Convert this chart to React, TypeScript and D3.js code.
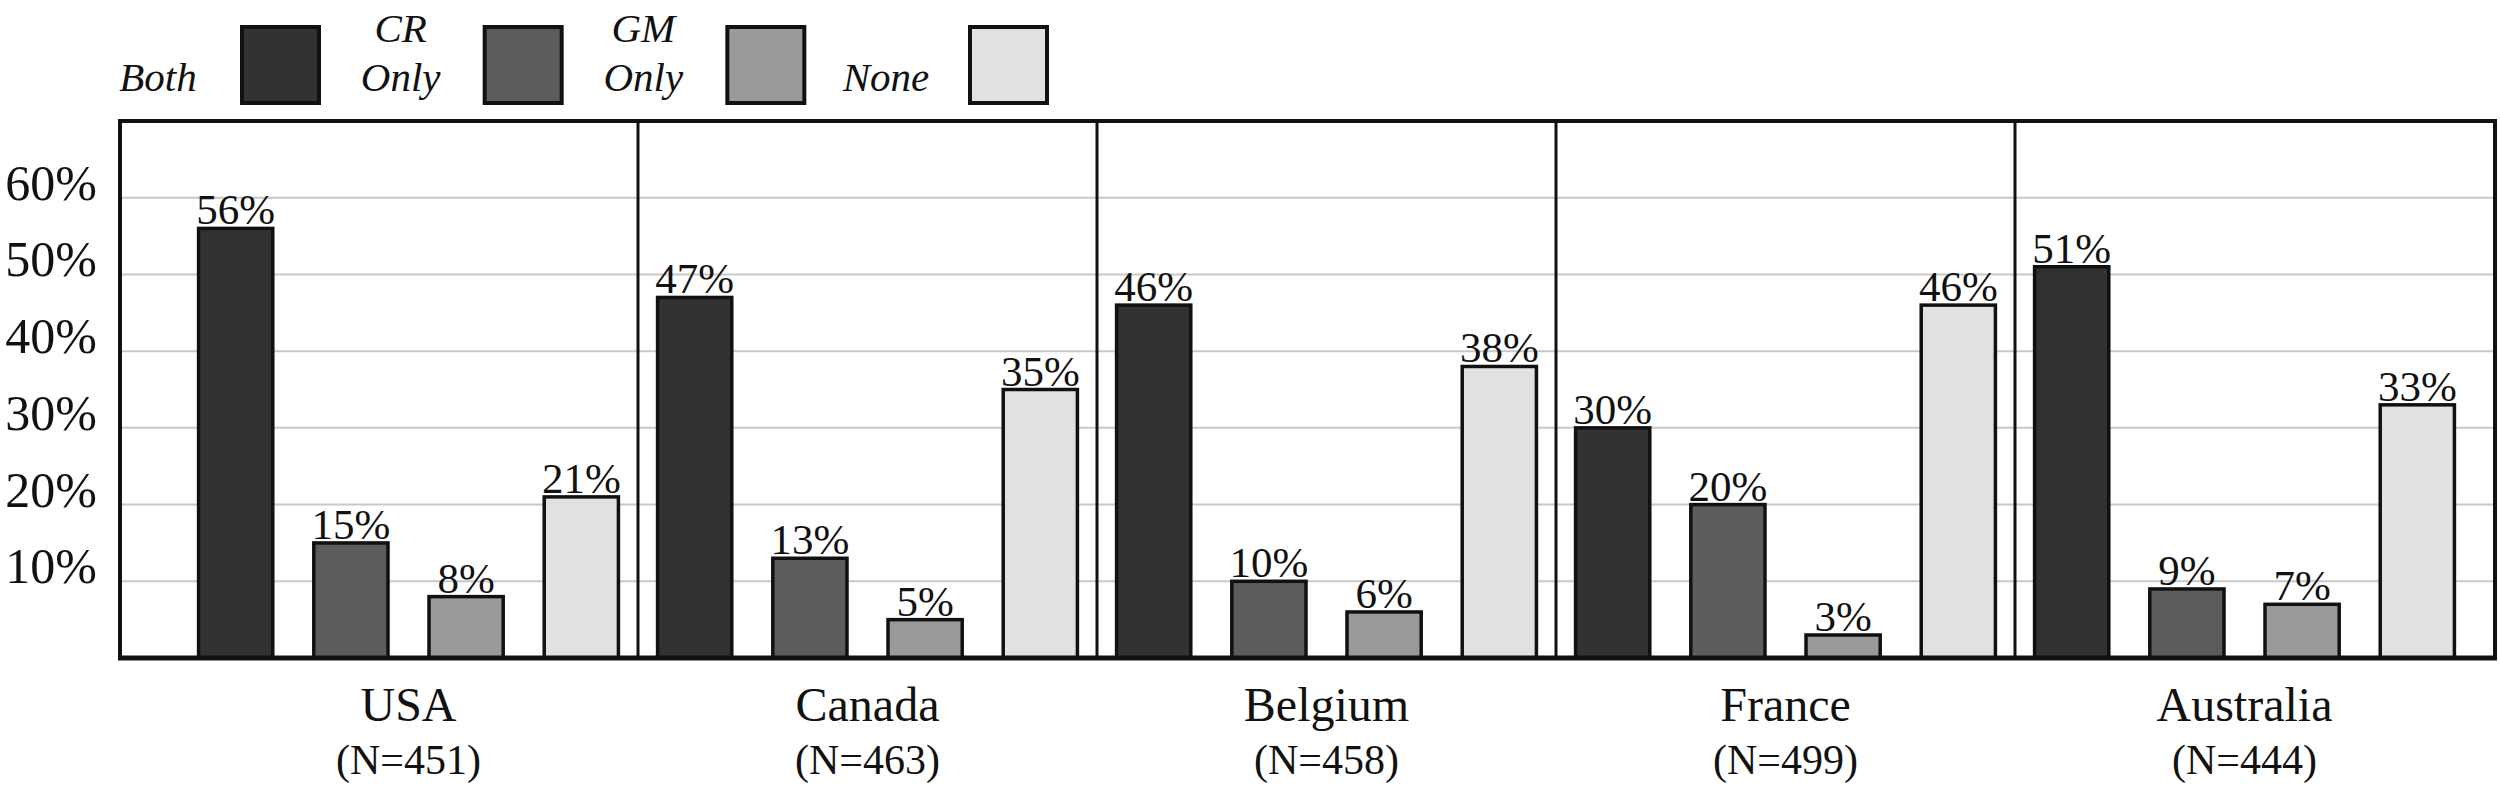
import React from "react";
import * as d3 from "d3";

const countries = ["USA", "Canada", "Belgium", "France", "Australia"];
const sampleSizes = [451, 463, 458, 499, 444];
const seriesKeys = ["Both", "CR Only", "GM Only", "None"];
const legendLines = [["Both"], ["CR", "Only"], ["GM", "Only"], ["None"]];
const bothValues = [56, 47, 46, 30, 51];
const crOnlyValues = [15, 13, 10, 20, 9];
const gmOnlyValues = [8, 5, 6, 3, 7];
const noneValues = [21, 35, 38, 46, 33];
const yTicks = [10, 20, 30, 40, 50, 60];
const seriesColors = ["#323232", "#5c5c5c", "#9a9a9a", "#e1e1e1"];

const W = 2500;
const H = 797;
const FONT = "'Liberation Serif', 'Times New Roman', Times, serif";

export default function App() {
  const seriesValues = [bothValues, crOnlyValues, gmOnlyValues, noneValues];
  const frameLeft = 120;
  const frameRight = 2495;
  const frameTop = 121;
  const frameBottom = 658;

  const y = d3.scaleLinear().domain([0, 70]).range([frameBottom, frameTop]);
  const xCountry = d3.scaleBand().domain(countries).range([179, 2474]).padding(0);
  const xSeries = d3
    .scaleBand()
    .domain(seriesKeys)
    .range([0, xCountry.bandwidth()])
    .paddingInner(0.33)
    .paddingOuter(0.157);

  const legendColor = d3.scaleOrdinal<string, string>().domain(seriesKeys).range(seriesColors);
  const legendX = d3.scalePoint().domain(seriesKeys).range([240, 968]);

  const separators = countries.slice(1).map((c) => xCountry(c) as number);

  return (
    <div style={{ position: "fixed", left: 0, top: 0 }}>
      <svg width={W} height={H} style={{ display: "block", background: "#fff" }} fontFamily={FONT}>
        <rect x={0} y={0} width={W} height={H} fill="#fff" />
        {/* Legend */}
        {seriesKeys.map((k, i) => {
          const bx = legendX(k) as number;
          const lines = legendLines[i];
          return (
            <g key={k}>
              {lines.map((ln, j) => (
                <text
                  key={ln}
                  x={bx - 82}
                  y={lines.length === 1 ? 91 : 42 + j * 49}
                  textAnchor="middle"
                  fontSize={41}
                  fontStyle="italic"
                  fill="#111"
                >
                  {ln}
                </text>
              ))}
              <rect x={bx + 2} y={27} width={77} height={76} fill={legendColor(k)} stroke="#111" strokeWidth={4} />
            </g>
          );
        })}

        {/* Gridlines */}
        {yTicks.map((t) => (
          <line key={t} x1={frameLeft} x2={frameRight} y1={y(t)} y2={y(t)} stroke="#c8c8c8" strokeWidth={2} />
        ))}

        {/* Y tick labels */}
        {yTicks.map((t) => (
          <text key={t} x={97} y={y(t) + 2} textAnchor="end" fontSize={50} fill="#111">
            {t}%
          </text>
        ))}

        {/* Bars */}
        {countries.map((c, ci) => (
          <g key={c} transform={`translate(${xCountry(c)},0)`}>
            {seriesKeys.map((k, si) => {
              const v = seriesValues[si][ci];
              const bx = xSeries(k) as number;
              const bw = xSeries.bandwidth();
              return (
                <g key={k}>
                  <rect
                    x={bx + 1.5}
                    y={y(v)}
                    width={bw - 3}
                    height={frameBottom - y(v)}
                    fill={seriesColors[si]}
                    stroke="#111"
                    strokeWidth={3.5}
                  />
                  <text x={bx + bw / 2} y={y(v) - 4} textAnchor="middle" fontSize={43} fill="#111">
                    {v}%
                  </text>
                </g>
              );
            })}
          </g>
        ))}

        {/* Frame and separators */}
        {separators.map((sx, i) => (
          <line key={i} x1={sx} x2={sx} y1={frameTop} y2={frameBottom} stroke="#111" strokeWidth={3} />
        ))}
        <rect
          x={frameLeft}
          y={frameTop}
          width={frameRight - frameLeft}
          height={frameBottom - frameTop}
          fill="none"
          stroke="#111"
          strokeWidth={4}
        />
        <line x1={frameLeft - 2} x2={frameRight + 2} y1={frameBottom} y2={frameBottom} stroke="#111" strokeWidth={5} />

        {/* Country labels */}
        {countries.map((c, ci) => {
          const cx = (xCountry(c) as number) + xCountry.bandwidth() / 2;
          return (
            <g key={c}>
              <text x={cx} y={721} textAnchor="middle" fontSize={48} fill="#111">
                {c}
              </text>
              <text x={cx} y={774} textAnchor="middle" fontSize={42} fill="#111">
                (N={sampleSizes[ci]})
              </text>
            </g>
          );
        })}
      </svg>
    </div>
  );
}
